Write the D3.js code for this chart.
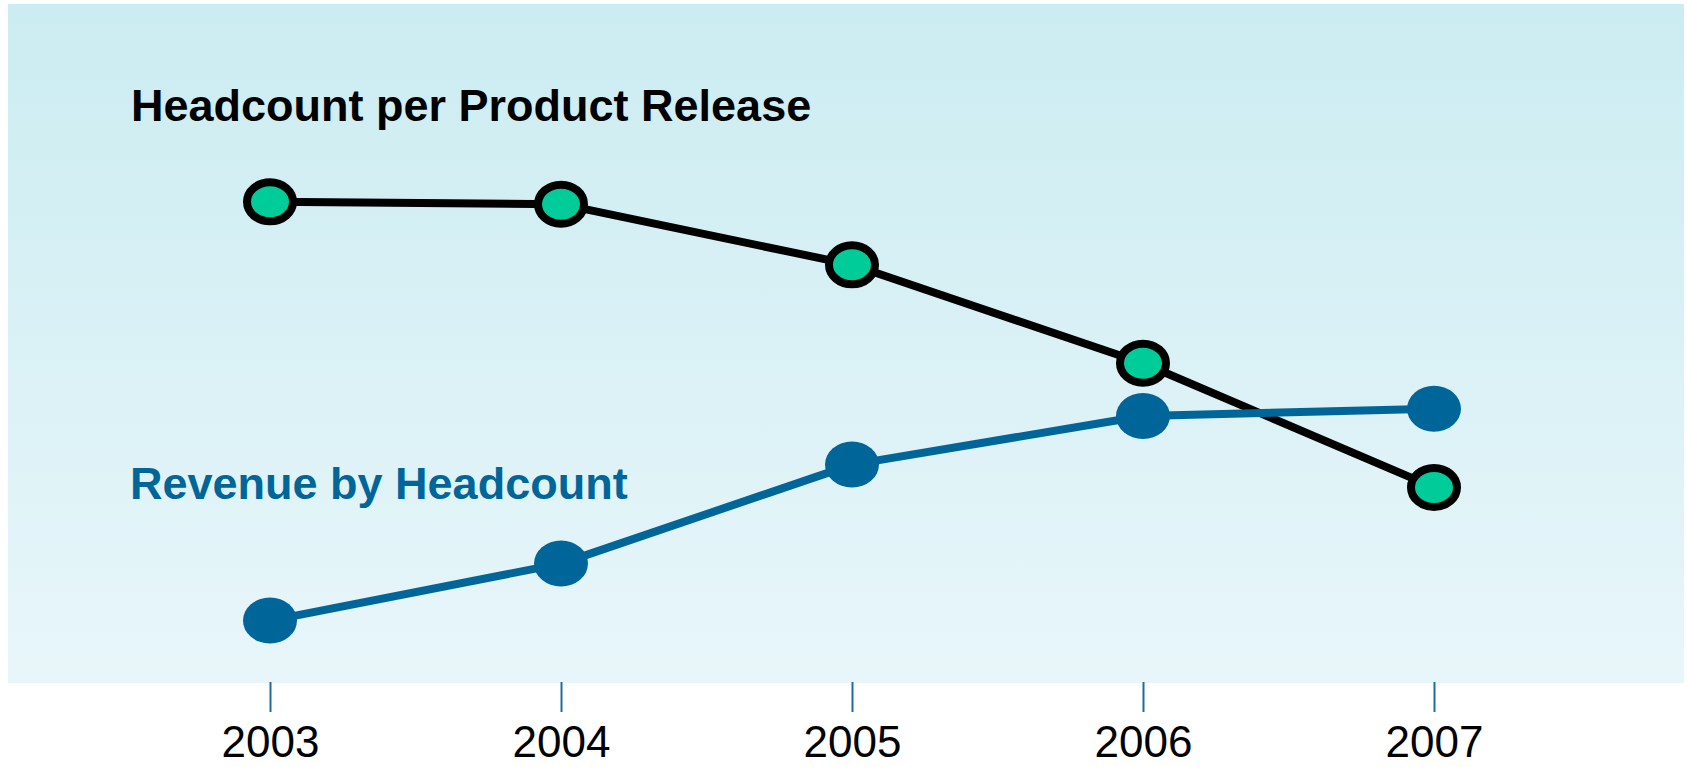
<!DOCTYPE html>
<html>
<head>
<meta charset="utf-8">
<script src="https://cdn.jsdelivr.net/npm/d3@7"></script>
<style>
  html, body { margin: 0; padding: 0; background: #ffffff; }
  svg { display: block; }
</style>
</head>
<body>
<svg id="chart" width="1687" height="767"></svg>
<script>
// ---- data (y values are relative index units) ----
const years = ["2003", "2004", "2005", "2006", "2007"];
const headcountPerRelease = [79.7, 79.3, 69.2, 52.8, 32.1];
const revenueByHeadcount = [9.9, 19.4, 35.9, 44.0, 45.2];
const seriesLabels = ["Headcount per Product Release", "Revenue by Headcount"];

// ---- layout ----
const panel = { x: 8, y: 4, w: 1676, h: 679 };
const svg = d3.select("#chart");

const defs = svg.append("defs");
const grad = defs.append("linearGradient")
  .attr("id", "bg").attr("x1", 0).attr("y1", 0).attr("x2", 0).attr("y2", 1);
grad.append("stop").attr("offset", "0%").attr("stop-color", "#cbecf1");
grad.append("stop").attr("offset", "100%").attr("stop-color", "#e8f6fa");

svg.append("rect")
  .attr("x", panel.x).attr("y", panel.y)
  .attr("width", panel.w).attr("height", panel.h)
  .attr("fill", "url(#bg)");

const x = d3.scalePoint().domain(years).range([270, 1434]);
const y = d3.scaleLinear().domain([0, 100]).range([680, 80]);

// axis with ticks only
const axis = d3.axisBottom(x).tickSize(30).tickPadding(14);
const gAxis = svg.append("g")
  .attr("transform", `translate(0,${panel.y + panel.h - 1})`)
  .call(axis);
gAxis.select(".domain").remove();
gAxis.selectAll(".tick line").attr("stroke", "#1f6c9c").attr("stroke-width", 2);
gAxis.selectAll(".tick text")
  .attr("fill", "#000")
  .style("font-family", "'Liberation Sans', Arial, sans-serif")
  .style("font-size", "44px");

const line = d3.line().x((d, i) => x(years[i])).y(d => y(d));

// Headcount series (black line, green markers)
svg.append("path")
  .datum(headcountPerRelease)
  .attr("d", line)
  .attr("fill", "none")
  .attr("stroke", "#000")
  .attr("stroke-width", 8)
  .attr("stroke-linejoin", "round");

svg.append("g").selectAll("ellipse")
  .data(headcountPerRelease)
  .join("ellipse")
  .attr("cx", (d, i) => x(years[i]))
  .attr("cy", d => y(d))
  .attr("rx", 23)
  .attr("ry", 19.5)
  .attr("fill", "#00cc99")
  .attr("stroke", "#000")
  .attr("stroke-width", 8);

// Revenue series (blue)
svg.append("path")
  .datum(revenueByHeadcount)
  .attr("d", line)
  .attr("fill", "none")
  .attr("stroke", "#006699")
  .attr("stroke-width", 8)
  .attr("stroke-linejoin", "round");

svg.append("g").selectAll("ellipse")
  .data(revenueByHeadcount)
  .join("ellipse")
  .attr("cx", (d, i) => x(years[i]))
  .attr("cy", d => y(d))
  .attr("rx", 27)
  .attr("ry", 23)
  .attr("fill", "#006699");

// Series labels
svg.append("text")
  .attr("x", 131).attr("y", 121)
  .attr("fill", "#000")
  .style("font-family", "'Liberation Sans', Arial, sans-serif")
  .style("font-weight", "bold")
  .style("font-size", "45px")
  .text(seriesLabels[0]);

svg.append("text")
  .attr("x", 130).attr("y", 499)
  .attr("fill", "#006699")
  .style("font-family", "'Liberation Sans', Arial, sans-serif")
  .style("font-weight", "bold")
  .style("font-size", "45px")
  .text(seriesLabels[1]);
</script>
</body>
</html>
